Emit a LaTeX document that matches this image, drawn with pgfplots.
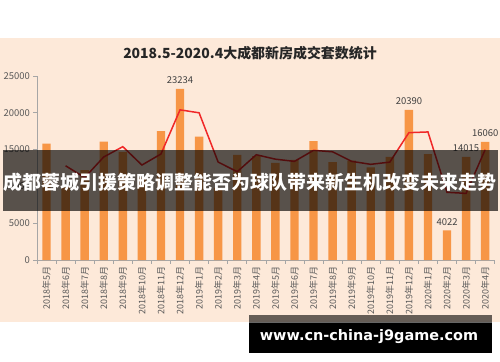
\documentclass[border=0pt]{standalone}
\usepackage{fontspec}
\setmainfont{Noto Sans CJK SC}
\newfontfamily\webfont{DejaVu Sans}
\usepackage{pgfplots}
\pgfplotsset{compat=1.18}
\definecolor{peach}{HTML}{FDE9D9}
\definecolor{barc}{HTML}{F79646}
\definecolor{linec}{HTML}{F02828}
\definecolor{txt}{HTML}{595959}
\definecolor{lbl}{HTML}{404040}
\definecolor{axc}{HTML}{A6A6A6}
\begin{document}
\begin{tikzpicture}
\useasboundingbox (0bp,0bp) rectangle (500bp,362bp);
\fill[white] (0bp,0bp) rectangle (500bp,362bp);
\fill[peach] (0bp,40bp) rectangle (500bp,324bp);
\node[font=\bfseries\fontsize{14}{16}\selectfont, text=black!85] at (250bp,309bp) {2018.5-2020.4大成都新房成交套数统计};
\begin{axis}[
  at={(37bp,102bp)}, anchor=south west,
  scale only axis, width=457.7bp, height=184bp,
  xmin=-0.5, xmax=23.5, ymin=0, ymax=25000,
  axis x line*=bottom, axis y line*=left,
  axis line style={draw=axc, line width=0.8bp},
  xtick={-0.5,0.5,1.5,2.5,3.5,4.5,5.5,6.5,7.5,8.5,9.5,10.5,11.5,12.5,13.5,14.5,15.5,16.5,17.5,18.5,19.5,20.5,21.5,22.5,23.5},
  x tick label as interval,
  xticklabels={2018年5月,2018年6月,2018年7月,2018年8月,2018年9月,2018年10月,2018年11月,2018年12月,2019年1月,2019年2月,2019年3月,2019年4月,2019年5月,2019年6月,2019年7月,2019年8月,2019年9月,2019年10月,2019年11月,2019年12月,2020年1月,2020年2月,2020年3月,2020年4月},
  xticklabel style={rotate=90, anchor=east, font=\fontsize{9}{10}\selectfont, text=txt},
  ytick={0,5000,10000,15000,20000,25000},
  scaled y ticks=false,
  yticklabel style={font=\fontsize{9.5}{10}\selectfont, text=txt},
  tick align=outside, major tick length=3.5bp, tick style={draw=axc, line width=0.6bp},
  /pgf/number format/1000 sep={}, /pgf/number format/assume math mode=true,
  clip=false,
]
\addplot[ybar, bar width=8.4bp, fill=barc, draw=none] coordinates {
(0,15800) (1,10000) (2,12200) (3,16100) (4,14700) (5,11200) (6,17500) (7,23234)
(8,16750) (9,9800) (10,14300) (11,14100) (12,13200) (13,13600) (14,16150) (15,13300)
(16,13500) (17,12600) (18,14000) (19,20390) (20,14400) (21,4022) (22,14015) (23,16060)};
\addplot[linec, line width=1.5bp, mark=none] coordinates {
(1,12800) (2,11200) (3,14000) (4,15400) (5,12900) (6,14400) (7,20400) (8,20000)
(9,13300) (10,12000) (11,14300) (12,13700) (13,13400) (14,14900) (15,14700) (16,13400)
(17,13000) (18,13300) (19,17300) (20,17400) (21,9200) (22,9050) (23,15000)};
\addplot[draw=none, mark=none, nodes near coords, point meta=explicit symbolic,
  every node near coord/.append style={font=\fontsize{9.5}{10}\selectfont, text=lbl, anchor=south, inner sep=1bp, yshift=4bp}]
  coordinates {(7,23234)[23234] (19,20390)[20390] (21,4022)[4022] (22,14015)[14015] (23,16060)[16060]};
\end{axis}
\fill[black, opacity=0.65] (3bp,151bp) rectangle (498bp,212bp);
\node[text=white, font=\bfseries\fontsize{19}{21}\selectfont] at (250bp,180bp) {成都蓉城引援策略调整能否为球队带来新生机改变未来走势};
\fill[black, opacity=0.6] (249bp,39bp) rectangle (492bp,47bp);
\fill[black] (249bp,9bp) rectangle (492bp,39bp);
\node[text=white, font=\webfont\bfseries\fontsize{14.5}{16}\selectfont] at (369bp,25bp) {www.cn-china-j9game.com};
\end{tikzpicture}
\end{document}
